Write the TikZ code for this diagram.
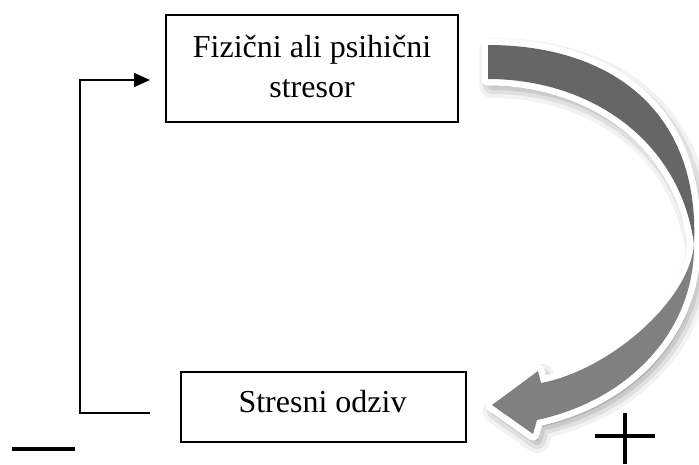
\documentclass[tikz,border=0pt]{standalone}
\usepackage{fontspec}
\setmainfont{Liberation Serif}
\usetikzlibrary{arrows.meta}

% outline of the curved arrow: dark back half and light front half with head
\newcommand\bandtop{(488,45) .. controls (610,45) and (700,110) .. (694,244)
  .. controls (680,140) and (590,79) .. (488,79) -- cycle}
\newcommand\bandlow{(694,244) .. controls (695,330) and (630,400) .. (537,420)
  -- (533,434) -- (492,405) -- (538,371) -- (541,383)
  .. controls (610,370) and (690,300) .. (694,244) -- cycle}

\begin{document}
\begin{tikzpicture}[x=1pt,y=-1pt,
  box/.style={draw=black, line width=1.1pt, fill=white, inner sep=0pt},
  lbl/.style={font=\fontsize{32}{40}\selectfont, inner sep=0pt, anchor=base},
  link/.style={line width=1.7pt, line join=miter},
  sign/.style={line width=3.4pt},
  rim/.style={white, line width=13pt, line join=round},
  shade/.style={black, line join=round}]
\useasboundingbox[fill=white] (0,0) rectangle (699,464);

% soft drop shadow of the curved arrow
\begin{scope}[shift={(4,6)}]
  \foreach \w/\o in {26/0.05, 18/0.07, 10/0.09, 2/0.12} {
    \begin{scope}[transparency group, opacity=\o]
      \filldraw[shade, line width=\w pt] \bandtop;
      \filldraw[shade, line width=\w pt] \bandlow;
    \end{scope}
  }
\end{scope}

% white rim and the two halves of the curved arrow
\draw[rim] \bandtop;
\draw[rim] \bandlow;
\fill[fill={rgb,255:red,102;green,102;blue,102}] \bandtop;
\fill[fill={rgb,255:red,128;green,128;blue,128}] \bandlow;

% boxes
\node[box, minimum width=292pt, minimum height=107pt] (stressor) at (312,68.5) {};
\node[lbl] (stressorA) at (312,57) {Fizični ali psihični};
\node[lbl] (stressorB) at (312,97) {stresor};

\node[box, minimum width=285pt, minimum height=70pt] (response) at (323.5,407) {};
\node[lbl] (responseT) at (322.5,412) {Stresni odziv};

% feedback loop from the response back to the stressor
\coordinate (fbOut) at (150,413);
\coordinate (fbIn) at (150,80);
\draw[link, -{Triangle[length=16pt,width=14pt]}] (fbOut) -- (80,413) -- (80,80) -- (fbIn);

% minus and plus signs
\draw[sign] (12,449) -- (75,449);
\draw[sign] (595,436) -- (655,436);
\draw[sign] (625,413) -- (625,464);
\end{tikzpicture}
\end{document}
